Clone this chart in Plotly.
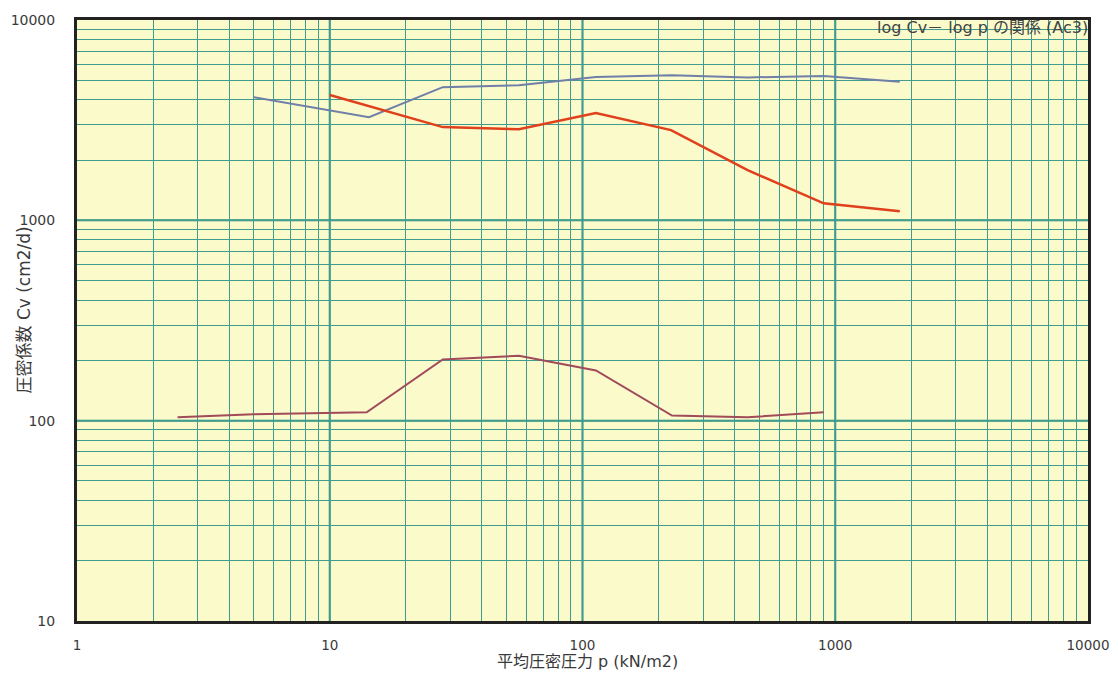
import plotly.graph_objects as go

# Data (mean consolidation pressure p, Cv)
p_blue = [5, 14.3, 28, 56, 113, 226, 450, 900, 1800]
cv_blue = [4120, 3270, 4620, 4730, 5190, 5300, 5170, 5250, 4920]

p_red = [10, 28, 56, 113, 224, 450, 900, 1800]
cv_red = [4220, 2920, 2850, 3430, 2820, 1780, 1216, 1110]

p_purple = [2.5, 5, 14, 28, 56, 113, 226, 450, 900]
cv_purple = [104, 107.6, 110, 202, 211, 178, 106, 104, 110]

x_decades = [1, 10, 100, 1000, 10000]
y_decades = [10, 100, 1000, 10000]

title_text = "log Cv－ log p の関係 (Ac3)"
x_title = "平均圧密圧力 p (kN/m2)"
y_title = "圧密係数 Cv (cm2/d)"

grid_col = "#3f9c8f"
bg_col = "#fafacb"

def all_ticks(decades):
    vals = []
    for d in decades[:-1]:
        for k in range(1, 10):
            vals.append(d * k)
    vals.append(decades[-1])
    return vals

xv = all_ticks(x_decades)
yv = all_ticks(y_decades)
xt = [str(v) if v in x_decades else "" for v in xv]
yt = [str(v) if v in y_decades else "" for v in yv]

fig = go.Figure()
fig.add_trace(go.Scatter(x=p_blue, y=cv_blue, mode="lines",
                         line=dict(color="#6f7fa8", width=2)))
fig.add_trace(go.Scatter(x=p_red, y=cv_red, mode="lines",
                         line=dict(color="#e0401c", width=2.5)))
fig.add_trace(go.Scatter(x=p_purple, y=cv_purple, mode="lines",
                         line=dict(color="#a04a5a", width=2)))

# thicker decade grid lines
for d in x_decades[1:-1]:
    fig.add_shape(type="line", xref="x", yref="paper", x0=d, x1=d, y0=0, y1=1,
                  line=dict(color="#238a7e", width=2), layer="below")
for d in y_decades[1:-1]:
    fig.add_shape(type="line", xref="paper", yref="y", x0=0, x1=1, y0=d, y1=d,
                  line=dict(color="#238a7e", width=2), layer="below")

font_fam = "DejaVu Sans, Noto Sans CJK JP, sans-serif"
# page body has an 8px margin, so the figure is sized to fit inside it
fig.update_layout(
    width=1102, height=663,
    margin=dict(l=69, r=22, t=12, b=50),
    paper_bgcolor="white", plot_bgcolor=bg_col,
    showlegend=False,
    font=dict(family=font_fam, color="#3a3a3a", size=14),
    xaxis=dict(type="log", range=[0, 4], tickvals=xv, ticktext=xt,
               showgrid=True, gridcolor=grid_col, gridwidth=1,
               ticks="", ticklabelstandoff=10, automargin=False,
               ticklabeloverflow="allow", tickfont=dict(size=13.5),
               showline=True, linecolor="#222222", linewidth=3, mirror=True,
               zeroline=False),
    yaxis=dict(type="log", range=[1, 4], tickvals=yv, ticktext=yt,
               showgrid=True, gridcolor=grid_col, gridwidth=1,
               ticks="", ticklabelstandoff=16, automargin=False,
               ticklabeloverflow="allow",
               showline=True, linecolor="#222222", linewidth=3, mirror=True,
               zeroline=False),
)

fig.add_annotation(text=title_text, xref="paper", yref="paper",
                   x=1.0, xshift=2, y=0.987, xanchor="right", yanchor="middle",
                   showarrow=False, font=dict(size=16, color="#444444"))
fig.add_annotation(text=x_title, xref="paper", yref="paper",
                   x=0.505, y=0, yshift=-40, xanchor="center", yanchor="middle",
                   showarrow=False, font=dict(size=16, color="#3a3a3a"))
fig.add_annotation(text=y_title, xref="paper", yref="paper",
                   x=0, xshift=-54, y=0.5, yshift=10, xanchor="center",
                   yanchor="middle", textangle=-90, showarrow=False,
                   font=dict(size=17, color="#3a3a3a"))

fig.write_html("out.html")
